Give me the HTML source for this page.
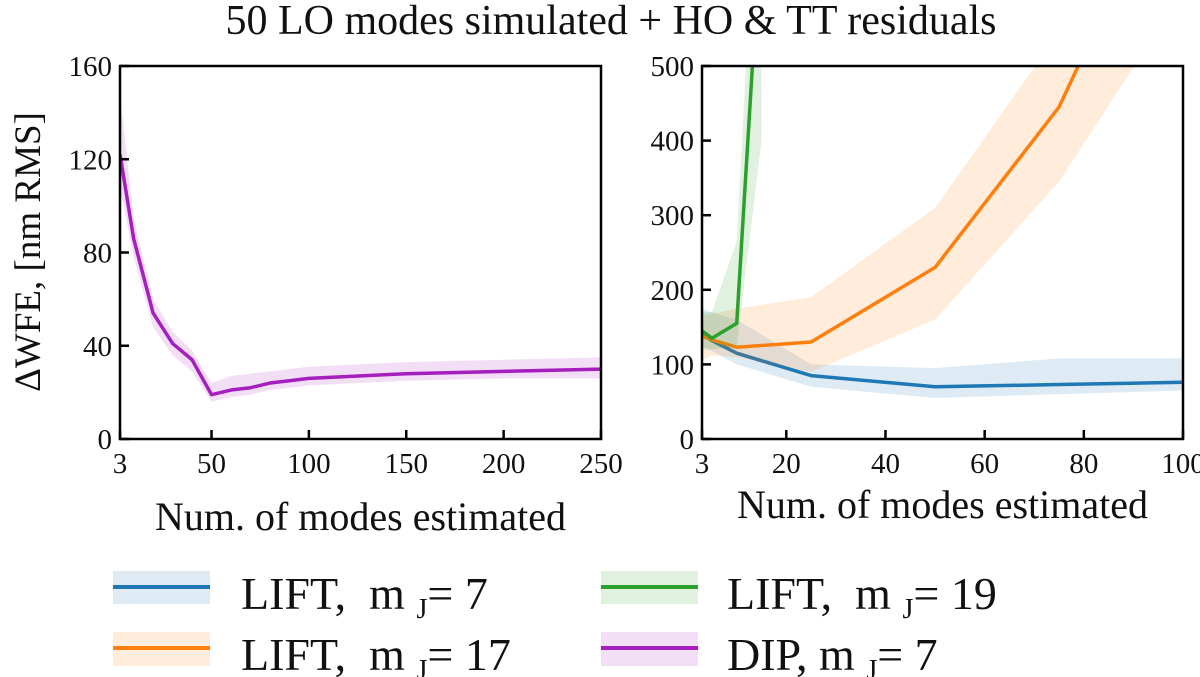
<!DOCTYPE html>
<html><head><meta charset="utf-8"><style>
body{margin:0;background:#fff}
svg{display:block;font-family:"Liberation Serif",serif}
</style></head><body>
<svg width="1200" height="677" viewBox="0 0 1200 677" xmlns="http://www.w3.org/2000/svg">
<text x="611" y="34" font-size="42" text-anchor="middle" fill="#111">50 LO modes simulated + HO &amp; TT residuals</text>
<text transform="translate(40,252) rotate(-90)" font-size="37" text-anchor="middle" fill="#111">ΔWFE, [nm RMS]</text>
<g id="left"></g>
<g id="right"></g>
<g>
 <g>
  <rect x="113" y="571" width="97" height="33" fill="#1f77b4" fill-opacity="0.15"/>
  <line x1="113" y1="587" x2="210" y2="587" stroke="#1f77b4" stroke-width="4"/>
  <text x="241" y="609" font-size="46" fill="#111" xml:space="preserve">LIFT,  m <tspan font-size="28" dy="9">J</tspan><tspan dy="-9">= 7</tspan></text>
 </g>
 <g>
  <rect x="113" y="632" width="97" height="34" fill="#ff7f0e" fill-opacity="0.15"/>
  <line x1="113" y1="648" x2="210" y2="648" stroke="#ff7f0e" stroke-width="4"/>
  <text x="241" y="670" font-size="46" fill="#111" xml:space="preserve">LIFT,  m <tspan font-size="28" dy="9">J</tspan><tspan dy="-9">= 17</tspan></text>
 </g>
 <g>
  <rect x="601" y="571" width="97" height="33" fill="#2ca02c" fill-opacity="0.15"/>
  <line x1="601" y1="587" x2="698" y2="587" stroke="#2ca02c" stroke-width="4"/>
  <text x="727" y="609" font-size="46" fill="#111" xml:space="preserve">LIFT,  m <tspan font-size="28" dy="9">J</tspan><tspan dy="-9">= 19</tspan></text>
 </g>
 <g>
  <rect x="601" y="632" width="97" height="34" fill="#a51fbf" fill-opacity="0.15"/>
  <line x1="601" y1="648" x2="698" y2="648" stroke="#a51fbf" stroke-width="4"/>
  <text x="727" y="670" font-size="46" fill="#111" xml:space="preserve">DIP, m <tspan font-size="28" dy="9">J</tspan><tspan dy="-9">= 7</tspan></text>
 </g>
</svg>
<script>
// Left panel data (DIP)
const dipX = [3,10,20,30,40,50,60,70,80,90,100,150,200,250];
const dipY = [122,86,54,41,34,19,21,22,24,25,26,28,29,30];
const dipLo = [108,78,48,36,29,16,18,19,21,22,23,25,26,26];
const dipHi = [148,95,60,46,38,24,27,28,29,30,31,33,34,35];
const leftXTicks = [3,50,100,150,200,250];
const leftYTicks = [0,40,80,120,160];
// Right panel data
const rX = [3,5,10,25,50,75,100];
const blueY = [140,132,115,85,70,73,76];
const blueLo = [125,118,100,70,55,60,65];
const blueHi = [175,170,160,100,95,108,108];
const orX = [3,5,10,25,50,75,100];
const orangeY = [138,133,123,130,230,445,800];
const orangeLo = [105,112,110,90,160,345,600];
const orangeHi = [165,168,175,190,310,545,1000];
const grX = [3,5,10,15];
const greenY = [145,135,155,700];
const greenLo = [120,120,125,400];
const greenHi = [170,170,265,900];
const rightXTicks = [3,20,40,60,80,100];
const rightYTicks = [0,100,200,300,400,500];

const NS="http://www.w3.org/2000/svg";
function mk(tag,attrs,parent){const e=document.createElementNS(NS,tag);for(const k in attrs)e.setAttribute(k,attrs[k]);parent.appendChild(e);return e;}

function panel(g,box,xd,yd,xt,yt,xlabel,xlabY,clipId){
  const sx=v=>box.x0+(v-xd[0])/(xd[1]-xd[0])*(box.x1-box.x0);
  const sy=v=>box.y1-(v-yd[0])/(yd[1]-yd[0])*(box.y1-box.y0);
  const defs=mk('defs',{},g);
  const cp=mk('clipPath',{id:clipId},defs);
  mk('rect',{x:box.x0,y:box.y0,width:box.x1-box.x0,height:box.y1-box.y0},cp);
  const plot=mk('g',{'clip-path':'url(#'+clipId+')'},g);
  xt.forEach(v=>{
    const t=mk('line',{x1:sx(v),x2:sx(v),y1:box.y1,y2:box.y1-9,stroke:'#000','stroke-width':2.5},g);
    
    
    const l=mk('text',{x:sx(v),y:box.y1+34,'font-size':29,'text-anchor':'middle',fill:'#111'},g);
    l.textContent=v;
    
    
  });
  yt.forEach(v=>{
    const t=mk('line',{x1:box.x0,x2:box.x0+9,y1:sy(v),y2:sy(v),stroke:'#000','stroke-width':2.5},g);
    
    
    const l=mk('text',{x:box.x0-8,y:sy(v)+10,'font-size':29,'text-anchor':'end',fill:'#111'},g);
    l.textContent=v;
    
    
  });
  const xl=mk('text',{x:(box.x0+box.x1)/2,y:xlabY,'font-size':40,'text-anchor':'middle',fill:'#111'},g);
  xl.textContent=xlabel;
  
  
  const fr=mk('rect',{x:box.x0,y:box.y0,width:box.x1-box.x0,height:box.y1-box.y0,fill:'none',stroke:'#000','stroke-width':2.5},g);
  
  
  return {plot,sx,sy};
}
function series(p,xs,ys,lo,hi,color,name){
  let d='M'+xs.map((x,i)=>p.sx(x)+','+p.sy(hi[i])).join('L');
  for(let i=xs.length-1;i>=0;i--)d+='L'+p.sx(xs[i])+','+p.sy(lo[i]);
  const b=mk('path',{d:d+'Z',fill:color,'fill-opacity':0.15,stroke:'none'},p.plot);
  
  
  const l=mk('polyline',{points:xs.map((x,i)=>p.sx(x)+','+p.sy(ys[i])).join(' '),fill:'none',stroke:color,'stroke-width':3.5,'stroke-linejoin':'round'},p.plot);
  
  
}
const L=panel(document.getElementById('left'),{x0:120,x1:601,y0:66,y1:439},[3,250],[0,160],leftXTicks,leftYTicks,'Num. of modes estimated',530,'clipL');
series(L,dipX,dipY,dipLo,dipHi,'#a51fbf','dip-mj7');
const R=panel(document.getElementById('right'),{x0:702,x1:1183,y0:66,y1:439},[3,100],[0,500],rightXTicks,rightYTicks,'Num. of modes estimated',518,'clipR');
series(R,rX,blueY,blueLo,blueHi,'#1f77b4','lift-mj7');
series(R,orX,orangeY,orangeLo,orangeHi,'#ff7f0e','lift-mj17');
series(R,grX,greenY,greenLo,greenHi,'#2ca02c','lift-mj19');
</script>
</body></html>
